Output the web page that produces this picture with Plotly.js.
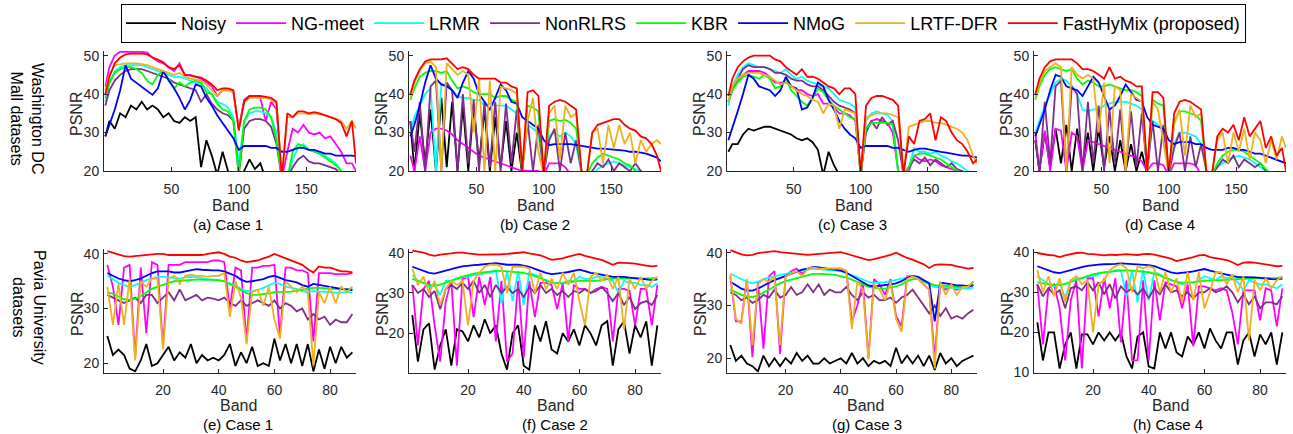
<!DOCTYPE html>
<html><head><meta charset="utf-8">
<script src="https://cdn.plot.ly/plotly-3.0.1.min.js"></script>
<style>html,body{margin:0;padding:0;background:#fff;} #chart{width:1293px;height:434px;}</style>
</head><body><div id="chart"></div>
<script>
const methods = ['Noisy','NG-meet','LRMR','NonRLRS','KBR','NMoG','LRTF-DFR','FastHyMix (proposed)'];
const colors = ['#000000','#FF00FF','#00FFFF','#7E2F8E','#00FF00','#0000FF','#EDB120','#FF0000'];
const caseLabels = ['(a) Case 1','(b) Case 2','(c) Case 3','(d) Case 4','(e) Case 1','(f) Case 2','(g) Case 3','(h) Case 4'];
const rowLabels = ['Washington DC<br>Mall datasets','Pavia University<br>datasets'];

const bandsDC = [1,4,8,12,16,20,24,28,32,36,40,44,48,52,56,60,64,68,72,76,80,84,88,92,96,100,104,108,112,116,120,124,128,132,136,140,144,148,152,156,160,164,168,172,176,180,184,187];
const bandsPavia = [0,2,4,6,8,10,12,14,16,18,20,22,24,26,28,30,32,34,36,38,40,42,44,46,48,50,52,54,56,58,60,62,64,66,68,70,72,74,76,78,80,82,84,86,88];

// (a) Washington DC, Case 1
const nzA = [29,33,31,35,34,37,36,38,36,37, 36,34,35,33,32.5,34,33,34,21,28, 24,19,25,20,18,18,20,23,20.5,22, 18,18,18,18,18,18,18,18,18,18, 18,18,18,18,18,18,18,18];
const ngA = [42,47,50,51,51,51,51,51,50.8,49.5, 48.5,48,47,46,48,45,45,44.5,44,43, 42,39.5,41,41,40.5,31,38.5,39.5,39.5,39, 33,38,36,18,25,31,30,32,30,29.5, 30,28.5,29,27,25,22,22,20];
const cyA = [38,43,46,47,47.5,47.5,47.5,47.5,47,46.5, 46,45.5,45,44.5,44.5,44,43.5,43,42.5,41.5, 40,38,37.5,36.5,34,22,33,35,35.5,35.5, 35,34,30,18,18,23,26,27,25.5,25, 24.5,24,23,22,20,19,18,18];
const puA = [37,41,43.5,45,46,46.5,46.5,46.5,46,45.5, 45,44.5,44,43,42.5,42,41.5,41,38,40, 37.5,36,35,34.5,33,19,31,33,33.5,33.5, 33,31.5,27,18,18,21,23,24,22.5,22, 22,21.5,21,20.5,19,18,18,18];
const grA = [39,43,45.5,46.5,47,47,46.5,45.5,43.5,42.5, 45,46,44,41.5,43,42,43,43.5,43,40.5, 40,37.5,36,35.5,33,19,33,36,36.5,36.5, 36,34,28,18,18,25,27,26.5,25.5,25, 24.5,23.5,22.5,21.5,20,18,18,18];
const blA = [29,32,36,41,47.5,44,43,42,41,39.8, 41.5,46,43.5,41.5,39,36,38.5,42.5,42,39, 37,34.5,32.5,30.5,28.5,25.5,26.5,26.5,26.5,26.5, 26.5,26,26,25,25,25.5,26,26,25.5,25.5, 25,24.5,24.5,24,24,24,24,23.8];
const orA = [41,45,47.5,47.8,48,48,48,47.8,47.5,47, 46.5,46,45.5,45,45.5,44.5,44,43.8,43.5,42.5, 41,39.5,41,41,40.5,31,38,39,39,39, 39,38.5,37.5,18,34,34,35,35,34.8,35, 34.8,34.5,34,33.5,33,31,33,31];
const fhA = [40,44.5,48,49.5,50.3,50.5,50.5,50.5,50.3,49.5, 49,48.3,47,46.5,47.5,45,44.8,44.5,44.3,43.5, 42.5,41,41.5,41.5,41,30.5,38,39.5,39.5,39.5, 39.3,39,38,18,35,34,35.5,35.5,35,35.3, 35,34.5,34,33.5,32.5,29,33,22];

// (b) Washington DC, Case 2
const nzB = [33,20,35,22,36,20,39,21,38,20, 37,20,37,22,36,20,34,21,33,20, 30,19,19,19,19,19,19,19,19,19, 19,19,19,19,19,19,19,19,19,19, 19,19,19,19,19,19,19,19];
const ngB = [24,20,29,20,30,31,31,30.5,29.5,28, 27,26,25,24,23.5,23,22.5,22,21.5,21, 20.5,20,20,20,20,19,22,22,22,21, 19,19,19,19,19,19,19,19,19,19, 19,19,19,19,19,19,19,19];
const cyB = [30,34,37,40,41.5,20,42.5,42.5,41,39.5, 39,39,38.5,38.5,37,37.5,37,37,37,36, 35,20,32,31,30,19,29,30,29,30, 29,27,19,19,19,20.5,21.5,22,22.5,22, 21.5,21,20.5,20,19,19,19,19];
const puB = [33,25,38,20,42,43.5,20,43,41,20, 40,22,38.5,20,38,21,38,20,37.5,22, 36,20,33,20,32,19,28,31,20,30, 22,28,20,19,20,22,21,23,20,22, 21,20,22,20,19,19,19,19];
const grB = [38.5,41.5,44.5,45.5,46,46,45.5,46,43.5,41.5, 42,41.5,40.5,40,40,40,39,39.5,39.5,38.5, 38,20,37,36.5,35.5,19,33,33.5,33,33.3, 32.5,31,20,19,22,23.5,24.5,24,23.5,23, 22,21.5,20,19,19,19,19,19];
const blB = [29,32,37,43,47.5,44,42.5,42,41,39, 43,46,44,40,38,36,39,42.5,41,38, 37.5,34,33,32,31,28,26.7,27,27,27, 27,26.8,26.5,26.3,26,25.8,25.8,25.7,25.5,25.5, 25.3,25,25,24.8,24.5,24,23.5,22.5];
const orB = [39,43,46,48,48.5,47,20,48,46.5,45, 46,45,30,44,20,43.5,20,42,41.5,41, 40,20,33,39,25,19,35,37,23,37, 34,35,20,19,30,31,22,32,26,32, 27,30,22,28,25,27,28,27];
const fhB = [40,43.5,46.5,48.5,49,49,49,49.3,48,46.5, 47,46.5,45,44,44,44,44,43,43,42, 41.5,20,40.5,41,39.5,19,37,38,38.5,38, 37,36,20,19,30,32,32.5,33,33.5,33.5, 32,31,30.5,29,28.5,27,24,20];

// (c) Washington DC, Case 3
const nzC = [25,27,27,29.5,31,30.5,31,31.5,31.5,31, 30.5,30,29.5,28.5,28,28.5,27.5,25.5,19,25, 21.5,19,19,19,19,19,19,19,19,19, 19,19,19,19,19,19,19,19,19,19, 19,19,19,19,19,19,19,19];
const ngC = [38,41,43.5,45,46,46,46,45.5,44.5,43, 43,43,42,41,41,40,39.5,40,37.5,37.5, 36.5,35,35,34.5,33,19,31,33,33.5,33, 32.5,30,20,19,20,24,23,22.5,23,22.5, 21.5,21,20.5,20,19,19,19,19];
const cyC = [37,42,45,47,48,47.5,47,47,46.5,46, 45.5,46.5,45,44,44.5,43.5,43,42.5,42,41.5, 40,38.5,38,37.5,36.5,19,33,35,35.5,35, 34.5,33,20,19,21,26,25,25,24.5,25, 24,23.5,22.5,22,21,20,19,19];
const puC = [38,41,44,46.5,47.5,47,47,47,46.5,45.5, 45.5,45,44,43.5,43.5,42.5,42,42,41,39.5, 38,37,36.5,36,35,19,30,33,31,34, 32,33,28,19,21,23,22,23.5,21.5,23, 22,21,22,20.5,20,19,19,19];
const grC = [38,41,43,44.5,45,44.5,44,45,44,41.5, 42,44,41,39.5,38,37,39,41.5,40.5,38.5, 37,36,35,34,33.5,19,31,32.5,32.5,32.5, 32.5,32,20,19,21,24,24.5,24.5,24,23.5, 23,22,21,20,19,19,19,19];
const blC = [28,31,35.5,40,45,44,42,41.5,41,39.5, 41,44.5,42,41.5,36,36.5,39,43,42,38.5, 36,33,31,29.5,28.5,26,26.5,26.5,26.5,26.5, 26.5,26,26,25.5,25,25.5,25.8,25.8,25.5,25.2, 25,24.8,24.5,24.3,24,24,23.8,23.5];
const orC = [38,42,44,45,45.5,45.5,45.5,45,44.5,43.5, 42.5,43,42,41,40,39.5,38.5,38,35,37.5, 37,31,36,35.5,35,19,34,34.5,35,35, 35,34.5,34,19,31.5,32,32.5,33,33,32.5, 32.5,32,31.5,31,30,28,24,22];
const fhC = [39.5,44,47,48.5,49.5,50,50,50,50,49, 48.5,47,46,45,46.5,44.5,44.5,44,43,42, 41.5,40,41.5,41.5,40,19,37,39,39.5,39.5, 39,38.5,37,19,29,27,33,33.5,35,28, 34,33,30,28,27,25,22,23];

// (d) Washington DC, Case 4
const nzD = [28,20,30,21,31,22,32,20,31,21, 30,20,31,21,29,20,28,20,27,20, 25,19,19,19,19,19,19,19,19,19, 19,19,19,19,19,19,19,19,19,19, 19,19,19,19,19,19,19,19];
const ngD = [30,20,30.5,20,31,30.5,20,30,29,20, 28,27.5,27,26.5,26,25.5,25,24.5,24,23.5, 22.5,20,22,22,21.5,19,22,22,22,22, 21.5,19,19,19,19,19,19,19,19,19, 19,19,19,19,19,19,19,19];
const cyD = [30,33,37,40,43,44,43.5,42,40,36, 35.5,36,36,37,37.5,38,38,38,37.5,37, 36,20,33,32,31,19,27,30,30,29.5, 29,27,20,19,21,22,23,23.5,24,23.5, 23,22,21,20,19,19,19,19];
const puD = [28,20,38,22,42,43.5,20,42,40,20, 38,22,37,20,36,22,36,20,35.5,21, 35,20,33,20,32,19,26,30,20,29, 21,27,20,19,21,23,22,24,21,23, 22,21,22,20,19,19,19,19];
const grD = [38.5,42,45,46.5,47,46.5,46,46.5,44,42.5, 43.5,43,42,42,42.5,42,41.5,41,41,40.5, 39.5,20,38.5,37.5,37,19,33,35.5,35.5,35, 34.5,33,20,19,22,24,25,25.5,25.5,25, 24,23,22,20.5,19,19,19,19];
const blD = [29,32,36,41,45,44.5,42,41.5,41,39.5, 42,44.5,43,39.5,36,37,39.5,42.5,40.5,38.5, 38,34,32,31.5,31,28,27,27.5,27.5,27.5, 27,27,26,25.5,25.5,25.5,26,26,25.5,25.5, 25,24.5,24.5,24,23.5,23,22.5,22];
const orD = [39,43,46,47,48,47,20,47,45,44, 45,44,30,43,22,42,41,20,40,39, 38,20,38,36,28,19,32,36,24,37, 34,35,20,19,28,30,22,30,25,31, 23,30,28,22,28,23,29,26];
const fhD = [40,44,47,48.5,49,49,49,49,48,46.5, 46.5,46,45,44,47,44,44.5,43.5,43,42, 42,20,40.5,40.5,39,19,35,38,38.5,38, 37,36,19,19,29,31,30,32,28,34, 29,31,33,26,29,24,26,20];

// (e) Pavia University, Case 1
const nzE = [25,21.5,22.5,21.5,19,18.5,20.5,23.5,19.5,20, 21.5,23,20.5,22,21,23.5,20,21.5,20.5,21, 20.5,21.5,23.5,19.5,22,20,23,19.5,20,19.5, 24.5,20.5,23.5,20,23.5,19.5,23.5,18.5,22.5,19, 23,20,23,21,22];
const ngE = [38,34,27,37.5,38,21,37.5,25.5,38.5,38, 23,38,38,38,38.5,38.5,38.5,38.5,38.5,38.8, 38.8,38.5,30,37.5,37,24,37.5,37.5,37.8,37.8, 38,25,37.5,37.5,37,37,36.5,24,36.5,36.5, 36.5,36.3,36.3,36.3,36.5];
const cyE = [36,35.3,34.7,34.3,34,34.3,34.8,35.2,35.5,35.8, 35.8,35.7,35.5,35.5,35.7,35.8,35.7,35.5,35.4,35.3, 35.2,35,34.6,34.2,33.6,33.2,33.2,33.4,33.8,34.3, 34.7,34.5,34,33.8,33.6,33.2,33,33.2,33.1,33, 33,32.9,32.9,32.9,33];
const puE = [32.5,32,31.5,31,31.5,32,31,32.5,32.5,31, 32,33,31.5,33.5,31.5,32,32.5,31.5,32,31.8, 31.5,32,31,30.5,31.5,30.5,31,31.5,31,30.5, 31.5,30,31,30.5,29.5,30,28,29,28,28.5, 27,28,27.5,27.5,29];
const grE = [33,32.7,32.2,31.7,31.6,31.8,32.3,33,33.6,34, 34.4,34.7,35,35.1,35.2,35.3,35.3,35.3,35.3,35.3, 35.2,35,34.5,34,33.4,32.8,32.5,32.5,32.6,32.8, 33,33,33,33.1,33.3,33.5,33.7,33.8,33.8,33.7, 33.6,33.5,33.5,33.5,33.6];
const blE = [36.5,36,35.5,35.2,35,35.2,35.5,36,36.5,36.8, 36.8,36.8,36.6,36.6,36.8,37,37.2,37.1,37,37, 37,36.8,36.4,36,35.3,34.9,35,35.2,35.4,35.8, 36,35.6,35.2,35,34.8,34.3,34,34.5,34.3,34.2, 34,33.8,33.6,33.5,33.4];
const orE = [34,27,34.5,27,35.5,20.5,35,34,35.5,35.5, 22.5,35.5,36,34.5,36,36.2,36,36,35.8,36, 36,36.5,28.5,35,32,23.5,33,33.5,30.5,34, 28,24.5,35,34,33,34,33,19.5,33,31, 34,31,34,33,34];
const fhE = [40.5,40.2,40,39.6,39.5,39.6,39.8,39.8,40,40, 40,39.8,39.8,39.8,39.7,39.8,39.8,39.8,40,40.2, 40.3,40,39.5,39.3,38.8,38.5,38.6,38.8,39.2,39.5, 40,39.6,39.2,38.8,38.5,38,37.2,36.6,37.7,37.5, 37.5,37.2,36.8,36.8,36.6];

// (f) Pavia University, Case 2
const nzF = [24.5,13,21,22.5,11,17,21,12,21,20.5, 18,22,19,23.5,20,22,15,11,20,22, 12,11,22,18,23,16,15,20,18,21, 17,22,20,17,22,23,12,21,23,15, 22,19,23,12,22];
const ngF = [32,17,31,33,22,13,28,33,12,33.5, 34,24,34,27,34,18,33,13,15,33, 14,33,24,32.5,32.5,32,26,32.5,18,32, 31,31,30,31,31.5,31,18,31,31,30.5, 22,31,31,22,32];
const cyF = [34.5,33,32.5,31.5,32,29.5,33,33,33.5,34, 34,34.5,34.5,35,35,35.5,27.5,35.5,28,35.5, 27,35,34.5,34,33,32.5,32.5,32.5,33,33, 34,33.5,33.5,34,34,33.5,33,30,33,32.5, 32.5,32,32,31.5,32.5];
const puF = [32,30,31,29,30.5,26,31,32,31,32.5, 31,33,30,32,29,32,30,31.5,30,31, 29,31.5,30,32,30,31,29.5,30.5,29,30.5, 30,31,30,30.5,31.5,30,28,30,27,29, 26,27.5,28,27,29.5];
const grF = [33.5,33,32.5,32,31.8,32,32.6,33,33.6,34, 34.4,34.8,35,35.2,35.4,35.5,35.5,35.4,35.3,35.2, 35,34.6,34.2,33.6,33.2,32.6,32.4,32.4,32.6,32.8, 33,33,33,33,33.2,33.4,33.6,33.6,33.7,33.7, 33.6,33.6,33.6,33.7,33.8];
const blF = [36.5,36,35.5,35,34.8,35.2,35.6,36,36.3,36.6, 36.8,36.9,37,37.2,37.3,37.4,37.2,37,37,37, 36.8,36.5,36,35.5,35,34.7,34.8,35,35.2,35.5, 35.8,35.4,35,34.8,34.5,34.2,34,34,34,33.8, 33.7,33.5,33.4,33.2,33.4];
const orF = [36,32,34,30,33,27,31,33,32,33, 22,33,35,36.5,37,37,36.5,30,36.5,36.5, 36.5,36,30,35,31,33.5,31,35,32,35, 28,22,34,35,33,34.5,31,34,21,33.5, 31,34,31,33,34];
const fhF = [40.5,40.2,40,39.5,39.2,39.5,39.6,39.8,40,40, 39.8,39.6,39.5,39.5,39.5,39.6,39.6,39.7,39.8,39.9, 40.1,39.8,39.6,39.3,38.8,38.2,38.4,38.6,39,39.4, 39.7,39.2,38.8,38.5,38.2,37.6,37,37.5,37.5,37.4, 37.3,37,36.8,36.6,36.8];

// (g) Pavia University, Case 3
const nzG = [22.5,19.5,20.5,19,18.5,17.5,20.5,18.5,20,18.5, 20,19,21,19.5,20.5,19,19,20,19,19.5, 20,19,21,19,20,18.5,19.5,19,19.5,18.5, 22,19,20.5,19,20.5,18.5,20.5,17.8,21,19, 20,18.5,19.5,20,20.5];
const ngG = [35.5,27,27,35,20.2,34.5,21.8,35.5,36.5,20.8, 35.5,36.5,37,36,37,37.2,37,37,37,37, 37,36.5,27,30,34.5,20,35,34,32,35, 28,26,35.5,35.5,35,34,33,20,34,33, 33.5,33,33.5,33.5,34.5];
const cyG = [36,35.5,35,34.5,34.2,34.5,35,35.3,35.6,35.8, 36,36.2,36.4,36.6,36.8,37,36.9,36.8,36.7,36.6, 36.5,36.2,35.8,35.3,34.9,34.5,34.3,34.3,34.4,34.6, 34.8,35,35.3,35.5,35,34.5,34,33.5,33.5,33.4, 33.3,33.2,33.2,33.2,33.4];
const puG = [32.5,32,31,31.5,30.5,31,32,31.5,33,31.5, 32,33.5,32,32.5,34,32.5,34,32,33,32.5, 32.5,33.5,32,31,32.5,31.5,32,31,31,31.5, 30.5,31.5,32,33,31.5,30,28.5,30,28,29.5, 27.5,28,27.5,28.5,29.2];
const grG = [33,32.5,32,31.7,31.6,31.9,32.4,33,33.6,34.2, 34.6,34.9,35.2,35.5,35.8,36,36,36,35.9,35.8, 35.6,35.3,34.9,34.5,34,33.5,33.3,33.2,33.2,33.4, 33.6,34,34.6,35,35,34.6,34.2,33.8,33.8,33.7, 33.6,33.5,33.6,33.7,33.9];
const blG = [34.5,33.8,33.2,32.8,32.8,33.2,33.8,34.3,34.8,35.2, 35.6,36,36.4,36.8,37,37.3,37.2,37,36.9,36.8, 36.6,36.2,35.6,35,34.4,33.8,33.6,33.7,33.8,34, 34.2,34.6,35.2,35.6,35.4,34.8,34.2,27,34.3,34.2, 34,33.8,33.8,33.6,33.8];
const orG = [36,27.5,26.5,35,22.5,34,35,34.5,35.5,22.5, 35.5,36,36.5,35.5,37,37.2,37,37,37,37, 37,36.5,25.5,34.5,33,19.8,34,33,31,34.5, 27.5,25,35,35.5,35,34,33,18,34.5,32, 34,32,33.5,33.5,34.5];
const fhG = [40.5,40.1,39.7,39.5,39.6,39.9,40,40.2,40.3,40.1, 40,39.8,39.7,39.6,39.6,39.7,39.8,39.9,39.9,40, 40.1,39.8,39.5,39.3,39,38.6,38.8,39,39.3,39.6, 40,39.5,39,38.7,38.3,37.8,37.1,37.7,37.8,37.8, 37.7,37.4,37.2,37,37.1];

// (h) Pavia University, Case 4
const nzH = [22.5,13,20,20,11,17,20,11,19.5,19.5, 17,20,18,20,18,20,14,11,19,20, 11.5,11,20,16,20,15,14,19,17,20, 16,21,18,16,20,20,12,18,20,14, 19.5,17,20,12,20];
const ngH = [32,17,31,32,26,13,28,33,11,33.5, 33.5,24,33.5,26,33.5,17.5,33,13,13,33, 13,33,23,32.5,32,31.5,26,32,16.5,31.5, 31.5,31,30.5,31,30.5,25,17,30.5,30.5,30.5, 23,31,30.5,21.5,31];
const cyH = [34,33,32,31.5,32.5,28.5,33,33.5,33.5,34, 34,34.5,35,35,35.5,35.5,29,35.5,27.5,35.5, 28,35,34.5,33.5,33,32.5,32,32.5,32.5,33, 34,33.5,33,34,33.5,33.5,32.5,30.5,33,32.5, 32,32,31.5,31,32];
const puH = [32,29,31,29.5,30.5,26,31,31.5,30.5,32.5, 30.5,32.5,29.5,32,28.5,31.5,30,31,29.5,31, 28.5,31,29.5,32,30,30.5,29,30,28.5,30, 30,31,30,30.5,31.5,30,27.5,29.5,27,29, 26,27.5,27.5,27,29];
const grH = [32.5,32.2,32,31.8,31.8,32.1,32.6,33.1,33.6,34.1, 34.5,34.8,35,35.2,35.3,35.4,35.5,35.4,35.3,35.2, 35,34.6,34.2,33.6,33.1,32.6,32.4,32.4,32.5,32.7, 32.9,33,33,33,33.1,33.2,33.3,33.4,33.5,33.5, 33.5,33.5,33.5,33.6,33.8];
const blH = [36.5,36,35.5,35,34.8,35.2,35.6,36,36.3,36.6, 36.8,36.9,37,37,37.1,37.2,37.1,37,36.9,36.9, 36.8,36.5,36,35.5,35,34.7,34.8,35,35.2,35.5, 35.8,35.4,35,34.7,34.4,34.1,33.8,33.8,33.8,33.7, 33.6,33.4,33.3,33.2,33.4];
const orH = [35.5,30,34,29,33.5,27.5,33,34,32,33, 20,32,33,35.5,36.5,37,36,30,36.5,36, 36.5,36,30,35,30,33.5,27.5,35,28,35, 26,30,35,35,32,34.5,30,34,18,33, 30.5,33.5,31,33,34];
const fhH = [39.8,39.5,39.3,39.2,38.8,39.2,39.5,39.8,39.9,39.6, 39.5,39.3,39.2,39.4,39.3,39.4,39.5,39.4,39.3,39.5, 39.6,39.4,39.1,38.8,38.4,37.8,38.1,38.4,38.8,39.2, 39.3,38.8,38.5,38.3,38,37.5,36.8,37.4,37.5,37.4, 37.2,37,36.7,36.5,36.6];

const dcTicks = [50,100,150];
const paviaTicks = [20,40,60,80];

const panels = [
  {bands:bandsDC, series:[nzA,ngA,cyA,puA,grA,blA,orA,fhA], yr:[20,51.2], yt:[20,30,40,50]},
  {bands:bandsDC, series:[nzB,ngB,cyB,puB,grB,blB,orB,fhB], yr:[20,51.2], yt:[20,30,40,50]},
  {bands:bandsDC, series:[nzC,ngC,cyC,puC,grC,blC,orC,fhC], yr:[20,51.2], yt:[20,30,40,50]},
  {bands:bandsDC, series:[nzD,ngD,cyD,puD,grD,blD,orD,fhD], yr:[20,51.2], yt:[20,30,40,50]},
  {bands:bandsPavia, series:[nzE,ngE,cyE,puE,grE,blE,orE,fhE], yr:[18.3,40.9], yt:[20,30,40]},
  {bands:bandsPavia, series:[nzF,ngF,cyF,puF,grF,blF,orF,fhF], yr:[10.3,40.9], yt:[20,30,40]},
  {bands:bandsPavia, series:[nzG,ngG,cyG,puG,grG,blG,orG,fhG], yr:[17.3,40.7], yt:[20,30,40]},
  {bands:bandsPavia, series:[nzH,ngH,cyH,puH,grH,blH,orH,fhH], yr:[10,40.8], yt:[10,20,30,40]}
];

const W = 1293, H = 434;
const colPx = [[104,356],[409,661],[727,977],[1034,1286]];
const rowPx = [[51,171],[249,372.5]];
const bandLabelX = [230,535,853,1160,238,555,865,1170];
const caseLabelX = [228,535,852,1160,238,555,867,1168];
const px = x => x / W;
const py = y => 1 - y / H;
const FONT = 'Liberation Sans, Arial, Helvetica, sans-serif';
const AXC = '#262626';

const traces = [];
const layout = {
  width: W, height: H,
  margin: {l:0, r:0, t:0, b:0},
  paper_bgcolor: '#fff', plot_bgcolor: '#fff',
  font: {family: FONT, color: AXC},
  showlegend: true,
  legend: {orientation:'h', x: px(121), y: py(4), xanchor:'left', yanchor:'top',
           bordercolor:'#000', borderwidth:1, bgcolor:'#fff',
           font:{family:FONT, size:18, color:'#000'}, itemwidth:50, tracegroupgap:0},
  annotations: []
};

panels.forEach((p, i) => {
  const n = i + 1;
  const xa = n === 1 ? 'xaxis' : 'xaxis' + n;
  const ya = n === 1 ? 'yaxis' : 'yaxis' + n;
  const col = colPx[i % 4], row = rowPx[Math.floor(i / 4)];
  const top = i < 4;
  layout[xa] = {
    domain: [px(col[0]), px(col[1])], anchor: 'y' + n,
    range: top ? [0,187] : [-1.2,89.3], tickvals: top ? dcTicks : paviaTicks,
    ticks:'inside', ticklen:4, tickcolor:AXC, showline:true, linecolor:AXC, linewidth:1,
    showgrid:false, zeroline:false, mirror:false, ticklabelstandoff:5,
    tickfont:{size:14, color:AXC, family:FONT}, automargin:false, fixedrange:true
  };
  layout[ya] = {
    domain: [py(row[1]), py(row[0])], anchor: 'x' + n,
    range: p.yr, tickvals: p.yt,
    ticks:'inside', ticklen:4, tickcolor:AXC, showline:true, linecolor:AXC, linewidth:1,
    showgrid:false, zeroline:false, mirror:false, ticklabelstandoff:1,
    tickfont:{size:14, color:AXC, family:FONT}, automargin:false, fixedrange:true
  };
  p.series.forEach((s, k) => {
    traces.push({
      type:'scatter', mode:'lines', x:p.bands, y:s, name:methods[k],
      xaxis:'x' + n, yaxis:'y' + n, showlegend: i === 0, legendgroup: methods[k],
      line:{color:colors[k], width:1.8}, hoverinfo:'skip'
    });
  });
  layout.annotations.push({text:'PSNR', xref:'paper', yref:'paper', x:px(col[0]-27), y:py(top ? 114 : 314),
    textangle:-90, showarrow:false, xanchor:'center', yanchor:'middle', font:{size:16, color:AXC, family:FONT}});
  layout.annotations.push({text:'Band', xref:'paper', yref:'paper', x:px(bandLabelX[i]), y:py(top ? 205 : 405),
    showarrow:false, xanchor:'center', yanchor:'middle', font:{size:16, color:AXC, family:FONT}});
  layout.annotations.push({text:caseLabels[i], xref:'paper', yref:'paper', x:px(caseLabelX[i]), y:py(top ? 224 : 424),
    showarrow:false, xanchor:'center', yanchor:'middle', font:{size:15, color:'#000', family:FONT}});
});

layout.annotations.push({text:rowLabels[0], xref:'paper', yref:'paper', x:px(27), y:py(118), textangle:90,
  showarrow:false, xanchor:'center', yanchor:'middle', font:{size:16, color:'#000', family:FONT}});
layout.annotations.push({text:rowLabels[1], xref:'paper', yref:'paper', x:px(29), y:py(307), textangle:90,
  showarrow:false, xanchor:'center', yanchor:'middle', font:{size:16, color:'#000', family:FONT}});

Plotly.newPlot('chart', traces, layout, {staticPlot:true, displayModeBar:false});
</script>
</body></html>
